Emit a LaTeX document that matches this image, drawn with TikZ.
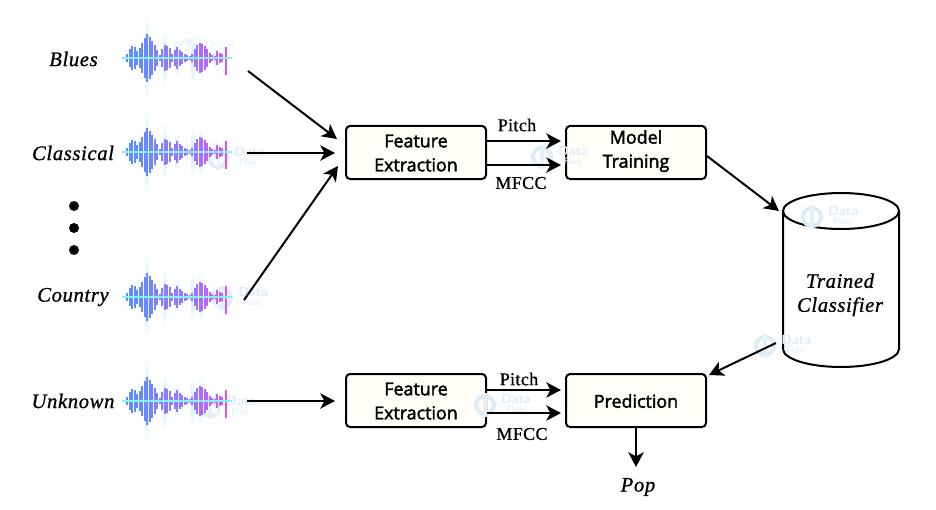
\documentclass[tikz,border=0pt]{standalone}
\usepackage{fontspec}
\setmainfont{Liberation Serif}
\newfontfamily\boxfont[FakeBold=2.2]{Open Sans}
\usetikzlibrary{arrows.meta}
\definecolor{boxfill}{RGB}{255,255,248}
\definecolor{wavA}{RGB}{95,140,255}
\definecolor{wavB}{RGB}{150,120,255}
\definecolor{wavC}{RGB}{220,80,250}
\definecolor{wavG}{RGB}{195,240,252}
\definecolor{wavL}{RGB}{135,240,255}
\definecolor{markA}{RGB}{222,236,246}
\definecolor{markB}{RGB}{232,240,247}
\tikzset{
  x=0.75pt,y=-0.75pt,
  blockbox/.style={draw=black,line width=1.5pt,rounded corners=3pt,fill=boxfill,minimum width=105pt,minimum height=39.75pt,inner sep=0pt},
  blocktext/.style={inner sep=0pt,align=center,font=\boxfont\fontsize{13.4}{18}\selectfont},
  flow/.style={draw=black,line width=1.5pt,-{Stealth[length=11pt,width=11.5pt,inset=3pt]}},
  genre/.style={inner sep=0pt,font=\fontsize{15.5}{18}\selectfont\itshape\addfontfeatures{FakeBold=0.9,LetterSpace=3}},
  tag/.style={inner sep=0pt,font=\fontsize{13.5}{14}\selectfont\addfontfeatures{FakeBold=0.8,LetterSpace=2}},
  dotmark/.style={circle,fill=black,minimum size=7.5pt,inner sep=0pt},
  wbar/.style={line width=1.5pt},
}
\newcommand{\wavesketch}[2]{%
  \begin{scope}[shift={(#1,#2)}]
    \foreach \gx/\ga in {20/46,38/30,50/20,66/25,74/25,89/12}{
      \shade[top color=white,bottom color=white,middle color=wavG] (\gx-1.5,-\ga) rectangle (\gx+1.5,\ga);
    }
    \foreach \bx/\bu in {0/4,2.5/9,5/12,7.5/11,10/7,12.5/10,15/15,17.5/20,20/24,22.5/21,25/17,27.5/13,30/8,32.5/3,
      35/9,37.5/13,40/12,42.5/10,45/4,47.5/8,50/11,52.5/8,55/6,57.5/4,60/3,62.5/2,
      65/4,67.5/9,70/13,72.5/15,75/14,77.5/12,80/9,82.5/5,85/3,87.5/2,90/7,92.5/5,95/4}{
      \pgfmathsetmacro{\mixa}{min(100,max(0,(\bx-12)*3))}
      \pgfmathsetmacro{\mixb}{min(100,max(0,(\bx-60)*2.4))}
      \draw[wbar,color={wavC!\mixb!wavB!\mixa!wavA}] (\bx,-\bu) -- (\bx,\bu);
    }
    \draw[wbar,draw=wavC] (98.5,-11) -- (98.5,17);
    \draw[line width=1pt,wavL] (-5,0) -- (105,0);
  \end{scope}}
\newcommand{\datamark}[3][1]{%
  \begin{scope}[shift={(#2,#3)},opacity=#1]
    \draw[markA,line width=3pt] (0,0) circle[radius=9];
    \fill[markB] (-2,-12) rectangle (2,12);
    \node[anchor=west,inner sep=0pt,text=markA] at (16,-6) {\sffamily\bfseries\fontsize{10}{10}\selectfont Data};
    \node[anchor=west,inner sep=0pt,text=markB] at (21,4) {\sffamily\bfseries\fontsize{7}{7}\selectfont Flair};
  \end{scope}}
\begin{document}
\begin{tikzpicture}
\useasboundingbox (0,0) rectangle (936,510);
\fill[white] (0,0) rectangle (936,510);

% watermarks behind waves
\datamark[0.4]{188}{50}
\datamark{218}{158}
\datamark{222}{298}
\datamark{210}{407}

% waveforms
\wavesketch{127}{58}
\wavesketch{127}{152}
\wavesketch{127}{297}
\wavesketch{127}{401}

% genres
\node[genre] (blues) at (73.5,59) {Blues};
\node[genre] (classical) at (73,153) {Classical};
\node[dotmark] (d1) at (74,206) {};
\node[dotmark] (d2) at (74,228) {};
\node[dotmark] (d3) at (74,250) {};
\node[genre] (country) at (73,297) {Country};
\node[genre] (unknown) at (73,401) {Unknown};

% blocks
\node[blockbox] (fe1) at (416,152.5) {};
\node[blockbox] (mt) at (636,152.5) {};
\node[blockbox] (fe2) at (416,400.5) {};
\node[blockbox] (pr) at (636,400.5) {};

% cylinder
\draw[line width=1.5pt,fill=white] (783,211) -- (783,349) arc[start angle=180,end angle=0,x radius=58,y radius=18] -- (899,211);
\draw[line width=1.5pt,fill=white] (841,211) ellipse[x radius=58,y radius=18];

% watermarks over fills
\datamark{542}{157}
\datamark{485}{405}
\datamark{812}{217}
\datamark{765}{346}

\node[blocktext] (fe1t) at (416,153) {Feature\\Extraction};
\node[blocktext] (mtt) at (636,151) {Model\\Training};
\node[blocktext] (fe2t) at (416,401) {Feature\\Extraction};
\node[blocktext] (prt) at (636,401) {Prediction};
\node[genre,align=center] (clf) at (840,295) {\begin{tabular}{@{}c@{}}Trained\\Classifier\end{tabular}};

\node[tag] (p1) at (517,125) {Pitch};
\node[tag] (m1) at (521,183) {MFCC};
\node[tag] (p2) at (519,379) {Pitch};
\node[tag] (m2) at (522,434) {MFCC};
\node[genre] (pop) at (638,487) {Pop};

% free ends
\coordinate (a1s) at (248,71);   \coordinate (a1e) at (337,139);
\coordinate (a2s) at (247,153);  \coordinate (a2e) at (335,153);
\coordinate (a3s) at (244,300);  \coordinate (a3e) at (338,166);
\coordinate (a4s) at (247,401);  \coordinate (a4e) at (335,401);
\coordinate (c1e) at (779,211);
\coordinate (c2s) at (776,343);  \coordinate (c2e) at (709,375);
\coordinate (c1s) at (707,156);
\coordinate (o1e) at (636,467);

\draw[flow] (a1s) -- (a1e);
\draw[flow] (a2s) -- (a2e);
\draw[flow] (a3s) -- (a3e);
\draw[flow] (a4s) -- (a4e);
\draw[flow,shorten >=3pt] ([yshift=8.6pt]fe1.east) -- ([yshift=8.6pt]mt.west);
\draw[flow,shorten >=3pt] ([yshift=-9.4pt]fe1.east) -- ([yshift=-9.4pt]mt.west);
\draw[flow,shorten >=3pt] ([yshift=7.9pt]fe2.east) -- ([yshift=7.9pt]pr.west);
\draw[flow,shorten >=3pt] ([yshift=-9.4pt]fe2.east) -- ([yshift=-9.4pt]pr.west);
\draw[flow] (c1s) -- (c1e);
\draw[flow] (c2s) -- (c2e);
\draw[flow] (pr.south) -- (o1e);
\end{tikzpicture}
\end{document}
